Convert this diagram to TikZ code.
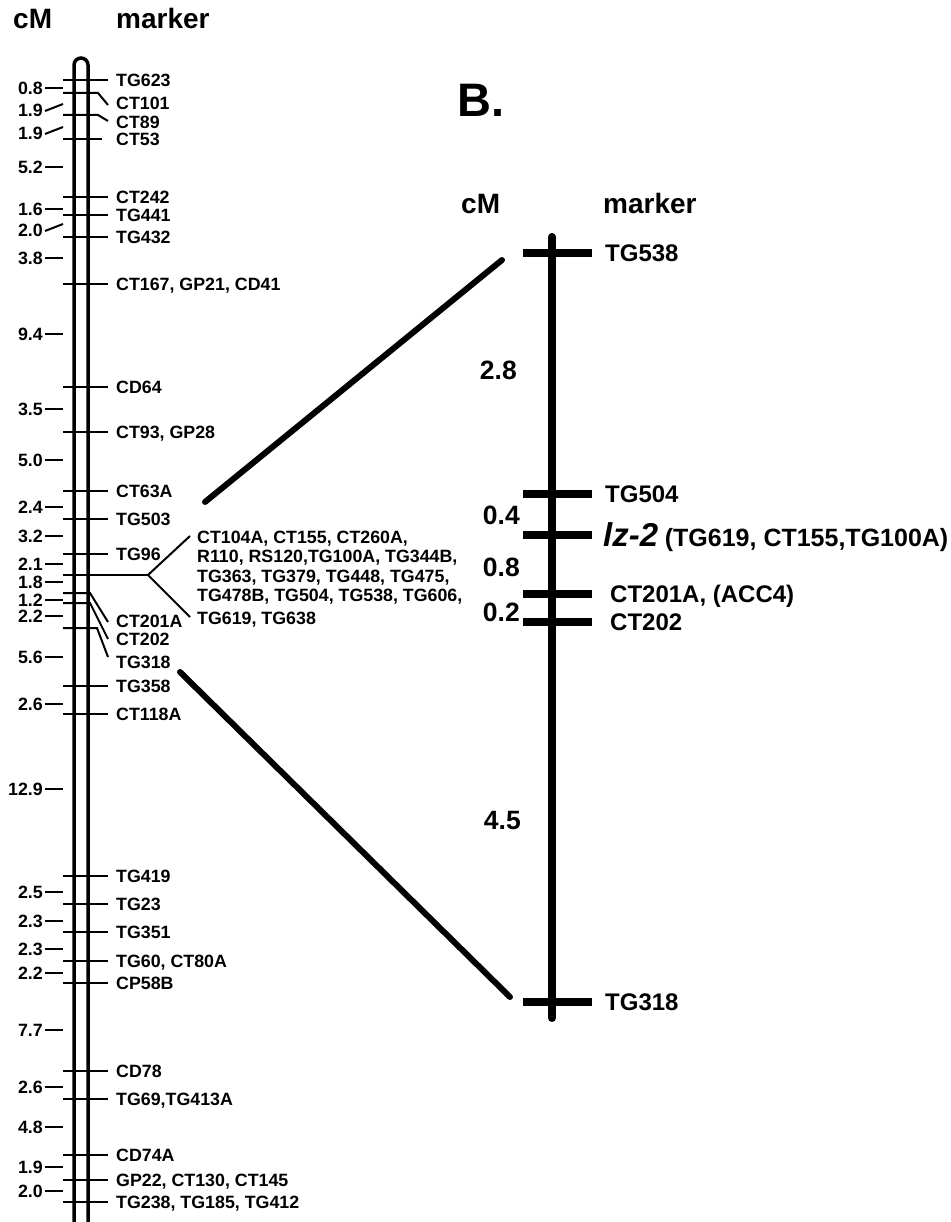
\documentclass[tikz,border=0pt]{standalone}
\usepackage{fontspec}
\setmainfont{Liberation Sans}
\begin{document}
\begin{tikzpicture}[x=1pt, y=-1pt,
  every node/.style={inner sep=0pt},
  mk/.style={anchor=base west, font=\fontsize{17.8}{19.3}\selectfont\bfseries},
  cmlab/.style={anchor=base east, font=\fontsize{17.8}{19.3}\selectfont\bfseries},
  head/.style={anchor=base west, font=\fontsize{28}{30}\selectfont\bfseries},
  bmk/.style={anchor=base west, font=\fontsize{24}{26}\selectfont\bfseries},
  bcm/.style={anchor=base east, font=\fontsize{26.5}{28}\selectfont\bfseries},
  mtick/.style={line width=2pt},
  btick/.style={line width=7.5pt}]
    \useasboundingbox (0,0) rectangle (950,1222);

    % Headers, map A
    \node[head] (cmA) at (13,29) {cM};
    \node[head] (mkA) at (116,29) {marker};

    % Chromosome A
    \draw[line width=3.5pt, rounded corners=7pt] (74,1232) -- (74,58) -- (88,58) -- (88,1232);

    % Markers, straight ticks
    \foreach \y/\r/\t in {80/108/TG623, 139/102/CT53, 197/108/CT242, 215/108/TG441,
        237/108/TG432, 284/108/{CT167, GP21, CD41}, 387/108/CD64, 432/108/{CT93, GP28},
        491/108/CT63A, 519/108/TG503, 554/108/TG96, 686/108/TG358, 714/108/CT118A,
        876/108/TG419, 904/108/TG23, 932/108/TG351, 961/108/{TG60, CT80A},
        983/108/CP58B, 1071/108/CD78, 1099/108/{TG69,TG413A}, 1155/108/CD74A,
        1180/108/{GP22, CT130, CT145}, 1202/108/{TG238, TG185, TG412}} {
      \draw[mtick] (63,\y) -- (\r,\y);
      \node[mk] (m\y) at (116,\y+6.3) {\t};
    }

    % Markers, bent ticks
    \foreach \y/\k/\e/\l/\t in {93/98/105/103/CT101, 115/98/121/122/CT89,
        593/90/622/621/CT201A, 603/90/639/639/CT202, 628/97/657/662/TG318} {
      \draw[mtick] (63,\y) -- (\k,\y) -- (108,\e);
      \node[mk] (m\y) at (116,\l+6.3) {\t};
    }

    % Cluster of co-segregating markers
    \draw[mtick] (63,575) -- (148,575) coordinate (fork);
    \draw[mtick] (fork) -- (190,536);
    \draw[mtick] (fork) -- (190,617);
    \node[mk, anchor=north west, align=left] (cluster) at (197,531)
      {CT104A, CT155, CT260A,\\ R110, RS120,TG100A, TG344B,\\ TG363, TG379, TG448, TG475,\\
       TG478B, TG504, TG538, TG606,\\[3.5pt] TG619, TG638};

    % Distances, map A
    \foreach \y/\v in {88/0.8, 167/5.2, 209/1.6, 258/3.8, 334/9.4, 409/3.5, 460/5.0,
        507/2.4, 536/3.2, 564/2.1, 582/1.8, 600/1.2, 616/2.2, 657/5.6, 704/2.6,
        789/12.9, 892/2.5, 921/2.3, 949/2.3, 973/2.2, 1030/7.7, 1087/2.6, 1127/4.8,
        1167/1.9, 1191/2.0} {
      \draw[mtick] (45,\y) -- (63,\y);
      \node[cmlab] (c\y) at (43,\y+6.3) {\v};
    }
    \foreach \y/\v in {110/1.9, 133/1.9, 230/2.0} {
      \draw[mtick] (45,\y+1) -- (63,\y-6);
      \node[cmlab] (c\y) at (43,\y+6.3) {\v};
    }

    % Panel B
    \node[anchor=base west, font=\fontsize{47}{50}\selectfont\bfseries] (panelB) at (457,117) {B.};
    \node[head] (cmB) at (461,214) {cM};
    \node[head] (mkB) at (603,214) {marker};

    % Chromosome B
    \draw[line width=8pt, line cap=round] (552,237) -- (552,1018);
    \foreach \y/\x/\t in {253/605/TG538, 494/605/TG504, 594/610/{CT201A, (ACC4)},
        622/610/CT202, 1002/605/TG318} {
      \draw[btick] (523,\y) -- (592,\y);
      \node[bmk] (b\y) at (\x,\y+8.6) {\t};
    }
    \draw[btick] (523,535) -- (592,535);
    \node[bmk] (lz2) at (603,546.8)
      {{\fontsize{33}{35}\selectfont\itshape lz-2} {\fontsize{25}{27}\selectfont(TG619, CT155,TG100A)}};

    % Distances, map B
    \foreach \x/\y/\v in {517/370/2.8, 520/515/0.4, 520/567/0.8, 520/612/0.2, 521/820/4.5}
      \node[bcm] (d\y) at (\x,\y+9.5) {\v};

    % Zoom lines
    \coordinate (A1) at (205,502);
    \coordinate (B1) at (502,260);
    \coordinate (A2) at (180,672);
    \coordinate (B2) at (510,997);
    \draw[line width=6pt, line cap=round] (A1) -- (B1);
    \draw[line width=6pt, line cap=round] (A2) -- (B2);
\end{tikzpicture}
\end{document}
